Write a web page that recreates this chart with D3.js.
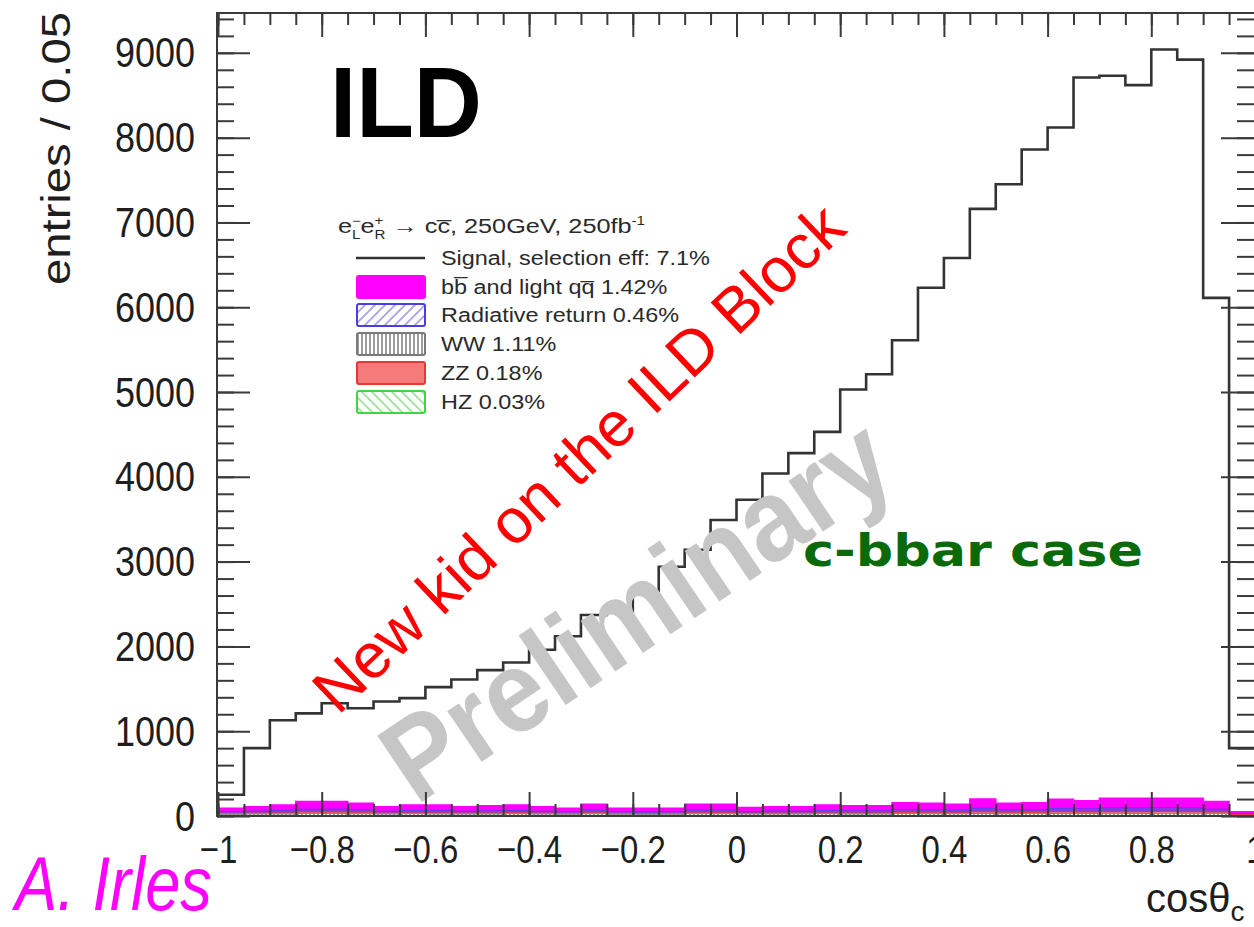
<!DOCTYPE html>
<html lang="en">
<head>
    <meta charset="UTF-8">
    <title>ILD c-bbar case</title>
    <script src="https://d3js.org/d3.v7.min.js"></script>
    <style>
        body { margin: 0; background: #fff; }
        svg { display: block; font-family: "Liberation Sans", Arial, sans-serif; }
        .tick text { transform-box: fill-box; transform-origin: center; transform: scaleY(1.2); }
    </style>
</head>
<body>

    <script>

        // bin edges of cos(theta_c), 0.05 wide
        var edges = [-1, -0.95, -0.9, -0.85, -0.8, -0.75, -0.7, -0.65, -0.6, -0.55,
                     -0.5, -0.45, -0.4, -0.35, -0.3, -0.25, -0.2, -0.15, -0.1, -0.05,
                     0, 0.05, 0.1, 0.15, 0.2, 0.25, 0.3, 0.35, 0.4, 0.45,
                     0.5, 0.55, 0.6, 0.65, 0.7, 0.75, 0.8, 0.85, 0.9, 0.95, 1];

        // signal (black line)
        var signal = [250, 800, 1130, 1210, 1330, 1270, 1350, 1390, 1520, 1610,
                      1720, 1810, 1960, 2120, 2370, 2410, 2630, 2940, 3140, 3490,
                      3730, 4040, 4280, 4530, 5030, 5210, 5610, 6230, 6580, 7160,
                      7450, 7860, 8120, 8710, 8730, 8620, 9040, 8920, 6110, 800];

        // backgrounds, stacked from the bottom
        var hz = [3, 3, 3, 3, 3, 3, 3, 3, 3, 3, 3, 3, 3, 3, 3, 3, 3, 3, 3, 3,
                  3, 3, 3, 3, 3, 3, 3, 3, 3, 3, 3, 3, 3, 3, 3, 3, 3, 3, 3, 2];
        var ww = [22, 24, 25, 28, 30, 27, 24, 26, 25, 24, 25, 27, 24, 22, 26, 22, 21, 22, 26, 27,
                  24, 25, 24, 26, 25, 25, 28, 27, 26, 30, 27, 28, 30, 29, 31, 30, 32, 31, 28, 12];
        var zz = [12, 14, 15, 18, 18, 16, 13, 14, 15, 13, 14, 15, 13, 12, 15, 12, 12, 12, 15, 15,
                  12, 13, 13, 14, 14, 14, 16, 16, 15, 20, 16, 17, 19, 18, 20, 20, 20, 20, 18, 8];
        var radret = [18, 22, 27, 36, 35, 31, 22, 27, 27, 22, 25, 27, 22, 18, 31, 18, 18, 18, 31, 31,
                      20, 23, 23, 27, 25, 25, 34, 33, 30, 45, 33, 34, 44, 40, 47, 47, 47, 47, 37, 10];
        var bb = [35, 47, 60, 85, 84, 73, 48, 60, 60, 48, 53, 58, 48, 35, 65, 35, 36, 35, 65, 64,
                  41, 46, 47, 60, 53, 53, 76, 71, 66, 102, 71, 75, 101, 90, 107, 108, 106, 107, 84, 18];

        var xTicks = [-1, -0.8, -0.6, -0.4, -0.2, 0, 0.2, 0.4, 0.6, 0.8, 1];
        var xTickLabels = ["\u22121", "\u22120.8", "\u22120.6", "\u22120.4", "\u22120.2", "0", "0.2", "0.4", "0.6", "0.8", "1"];
        var yTicks = [0, 1000, 2000, 3000, 4000, 5000, 6000, 7000, 8000, 9000];
        var yTickLabels = ["0", "1000", "2000", "3000", "4000", "5000", "6000", "7000", "8000", "9000"];

        var legendNames = ["Signal, selection eff: 7.1%", "bb\u0305 and light qq\u0305 1.42%",
                           "Radiative return 0.46%", "WW 1.11%", "ZZ 0.18%", "HZ 0.03%"];

        var width = 1254;
        var height = 927;

        var x = d3.scaleLinear().domain([-1, 1]).range([218, 1255]);
        var y = d3.scaleLinear().domain([0, 9470]).range([816, 13]);

        var svg = d3.select("body")
            .append("svg")
            .attr("width", width)
            .attr("height", height);

        svg.append("rect").attr("width", width).attr("height", height).attr("fill", "#fff");

        // hatch patterns
        var defs = svg.append("defs");
        function hatch(id, color, d, size) {
            var p = defs.append("pattern")
                .attr("id", id)
                .attr("patternUnits", "userSpaceOnUse")
                .attr("width", size).attr("height", size);
            p.append("rect").attr("width", size).attr("height", size).attr("fill", "#fff");
            p.append("path").attr("d", d).attr("stroke", color).attr("stroke-width", 1.8);
        }
        hatch("hRad", "#a9a2f2", "M-2,12 L12,-2 M-2,2 L2,-2 M8,12 L12,8", 10);
        hatch("hWW", "#909090", "M2,0 L2,4", 4);
        hatch("hHZ", "#9be39b", "M-2,-2 L12,12 M-2,8 L2,12 M8,-2 L12,2", 10);

        var layers = [
            { key: "hz", fill: "url(#hHZ)", stroke: "#3fd63f" },
            { key: "ww", fill: "url(#hWW)", stroke: "#7a7a7a" },
            { key: "zz", fill: "#f57a7a", stroke: "#e23a3a" },
            { key: "radret", fill: "#8a3bdc", stroke: "#4a3af0" },
            { key: "bb", fill: "#ff00ff", stroke: "#ff00ff" }
        ];

        var rows = signal.map(function (s, i) {
            return { hz: hz[i], ww: ww[i], zz: zz[i], radret: radret[i], bb: bb[i] };
        });
        var stacked = d3.stack().keys(layers.map(function (l) { return l.key; }))(rows);

        var plot = svg.append("g");

        stacked.forEach(function (layer, li) {
            plot.append("g").selectAll("rect")
                .data(layer)
                .enter()
                    .append("rect")
                    .attr("x", function (d, i) { return x(edges[i]); })
                    .attr("width", function (d, i) { return x(edges[i + 1]) - x(edges[i]); })
                    .attr("y", function (d) { return y(d[1]); })
                    .attr("height", function (d) { return y(d[0]) - y(d[1]); })
                    .attr("fill", layers[li].fill);
            var pts = layer.map(function (d, i) { return [edges[i], d[1]]; });
            pts.push([1, layer[layer.length - 1][1]]);
            plot.append("path")
                .attr("d", d3.line().curve(d3.curveStepAfter)
                    .x(function (d) { return x(d[0]); })
                    .y(function (d) { return y(d[1]); })(pts))
                .attr("fill", "none")
                .attr("stroke", layers[li].stroke)
                .attr("stroke-width", 1.5);
        });

        // watermark
        svg.append("text")
            .attr("transform", "translate(416,806) rotate(-34)")
            .attr("font-size", 116)
            .attr("font-weight", "bold")
            .attr("textLength", 585)
            .attr("lengthAdjust", "spacingAndGlyphs")
            .attr("fill", "#c6c6c6")
            .text("Preliminary");

        // signal histogram
        var sigPts = signal.map(function (v, i) { return [edges[i], v]; });
        sigPts.push([1, signal[signal.length - 1]]);
        plot.append("path")
            .attr("d", d3.line().curve(d3.curveStepAfter)
                .x(function (d) { return x(d[0]); })
                .y(function (d) { return y(d[1]); })(sigPts))
            .attr("fill", "none")
            .attr("stroke", "#333")
            .attr("stroke-width", 2.6);

        // axes: ticks inside the frame, ROOT-like
        function styleAxis(g) {
            g.select(".domain").remove();
            g.selectAll("line").attr("stroke", "#3a3a3a").attr("stroke-width", 2);
            g.selectAll("text").attr("fill", "#1e1e1e").attr("font-family", "Liberation Sans, Arial, sans-serif");
        }

        var xMinor = edges;
        var yMinor = d3.range(0, 9470, 200);

        svg.append("g").attr("transform", "translate(0,816)")
            .call(d3.axisBottom(x).tickValues(xMinor).tickSizeInner(-12).tickSizeOuter(0).tickFormat(""))
            .call(styleAxis);
        svg.append("g").attr("transform", "translate(0,816)")
            .call(d3.axisBottom(x).tickValues(xTicks).tickSizeInner(-24).tickSizeOuter(0).tickPadding(21)
                .tickFormat(function (d, i) { return xTickLabels[i]; }))
            .call(styleAxis)
            .selectAll("text").attr("font-size", 33);

        svg.append("g").attr("transform", "translate(0,13)")
            .call(d3.axisTop(x).tickValues(xMinor).tickSizeInner(-12).tickSizeOuter(0).tickFormat(""))
            .call(styleAxis);
        svg.append("g").attr("transform", "translate(0,13)")
            .call(d3.axisTop(x).tickValues(xTicks).tickSizeInner(-24).tickSizeOuter(0).tickFormat(""))
            .call(styleAxis);

        svg.append("g").attr("transform", "translate(217,0)")
            .call(d3.axisLeft(y).tickValues(yMinor).tickSizeInner(-17).tickSizeOuter(0).tickFormat(""))
            .call(styleAxis);
        svg.append("g").attr("transform", "translate(217,0)")
            .call(d3.axisLeft(y).tickValues(yTicks).tickSizeInner(-33).tickSizeOuter(0).tickPadding(22)
                .tickFormat(function (d, i) { return yTickLabels[i]; }))
            .call(styleAxis)
            .selectAll("text").attr("font-size", 36);

        svg.append("g").attr("transform", "translate(1254,0)")
            .call(d3.axisRight(y).tickValues(yMinor).tickSizeInner(-17).tickSizeOuter(0).tickFormat(""))
            .call(styleAxis);
        svg.append("g").attr("transform", "translate(1254,0)")
            .call(d3.axisRight(y).tickValues(yTicks).tickSizeInner(-33).tickSizeOuter(0).tickFormat(""))
            .call(styleAxis);

        // frame
        svg.append("rect")
            .attr("x", 217).attr("y", 13)
            .attr("width", 1040).attr("height", 803)
            .attr("fill", "none")
            .attr("stroke", "#3a3a3a")
            .attr("stroke-width", 2);

        // axis titles
        svg.append("text")
            .attr("transform", "translate(70,12) rotate(-90)")
            .attr("text-anchor", "end")
            .attr("font-size", 40)
            .attr("textLength", 273)
            .attr("lengthAdjust", "spacingAndGlyphs")
            .attr("fill", "#1e1e1e")
            .text("entries / 0.05");

        var xt = svg.append("text")
            .attr("x", 1146).attr("y", 912)
            .attr("font-size", 40)
            .attr("fill", "#1e1e1e")
            .text("cos\u03b8");
        xt.append("tspan").attr("dy", 9).attr("font-size", 28).text("c");

        // ILD label
        svg.append("text")
            .attr("x", 330).attr("y", 137)
            .attr("font-size", 100)
            .attr("font-weight", "bold")
            .attr("textLength", 152)
            .attr("lengthAdjust", "spacingAndGlyphs")
            .attr("fill", "#000")
            .text("ILD");

        // legend
        var leg = svg.append("g").attr("fill", "#2a2a2a").attr("font-size", 20);
        var head = leg.append("text").attr("x", 338).attr("y", 233).attr("font-size", 20);
        head.append("tspan").text("e");
        head.append("tspan").attr("dy", -8).attr("font-size", 12).text("\u2212");
        head.append("tspan").attr("dx", -7).attr("dy", 14).attr("font-size", 12).text("L");
        head.append("tspan").attr("dy", -6).text("e");
        head.append("tspan").attr("dy", -8).attr("font-size", 12).text("+");
        head.append("tspan").attr("dx", -7).attr("dy", 14).attr("font-size", 12).text("R");
        head.append("tspan").attr("dy", -6).text(" \u2192 cc\u0305, 250GeV, 250fb");
        head.append("tspan").attr("dy", -8).attr("font-size", 12).text("-1");
        head.attr("textLength", 307).attr("lengthAdjust", "spacingAndGlyphs");

        var rowY = [258, 287, 315, 344, 373, 402];
        var legFills = ["none", "#ff00ff", "url(#hRad)", "url(#hWW)", "#f57a7a", "url(#hHZ)"];
        var legStrokes = ["none", "#ff00ff", "#4a3af0", "#7a7a7a", "#e23a3a", "#3fd63f"];

        legendNames.forEach(function (name, i) {
            if (i === 0) {
                leg.append("line")
                    .attr("x1", 356).attr("x2", 425)
                    .attr("y1", rowY[i]).attr("y2", rowY[i])
                    .attr("stroke", "#333").attr("stroke-width", 2.6);
            } else {
                leg.append("rect")
                    .attr("x", 357).attr("y", rowY[i] - 11)
                    .attr("width", 68).attr("height", 22)
                    .attr("rx", 2)
                    .attr("fill", legFills[i])
                    .attr("stroke", legStrokes[i])
                    .attr("stroke-width", 2);
            }
            var t = leg.append("text")
                .attr("x", 441).attr("y", rowY[i] + 7)
                .text(name);
            t.attr("textLength", t.node().getComputedTextLength() * 1.17)
                .attr("lengthAdjust", "spacingAndGlyphs");
        });

        svg.append("text")
            .attr("x", 803).attr("y", 566)
            .attr("font-family", "DejaVu Sans, sans-serif")
            .attr("font-weight", "bold")
            .attr("font-size", 44)
            .attr("textLength", 340)
            .attr("lengthAdjust", "spacingAndGlyphs")
            .attr("fill", "#0a6a0a")
            .text("c-bbar case");

        svg.append("text")
            .attr("transform", "translate(338,716) rotate(-43.5)")
            .attr("font-size", 63)
            .attr("fill", "#ff0000")
            .text("New kid on the ILD Block");

        svg.append("text")
            .attr("x", 15).attr("y", 910)
            .attr("font-size", 76)
            .attr("font-style", "italic")
            .attr("textLength", 197)
            .attr("lengthAdjust", "spacingAndGlyphs")
            .attr("fill", "#ff00ff")
            .text("A. Irles");

    </script>


</body>
</html>
